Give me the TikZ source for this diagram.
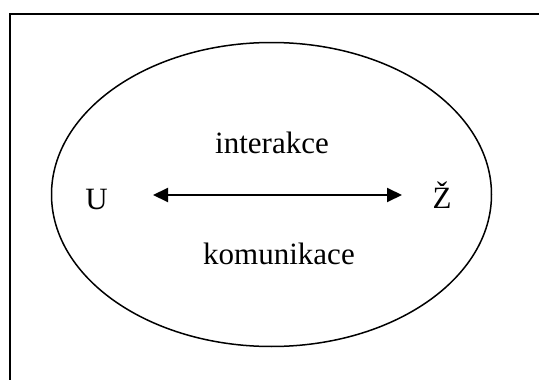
\documentclass[tikz,border=0pt]{standalone}
\usepackage{fontspec}
\setmainfont{Liberation Serif}
\usetikzlibrary{arrows.meta}
\tikzset{
  lbl/.style={anchor=base,inner sep=0pt,font=\fontsize{31}{36}\selectfont},
  frameline/.style={line width=2pt,black},
  ell/.style={line width=1.5pt,black},
  biarrow/.style={line width=2pt,{Triangle[length=15pt,width=14pt]}-{Triangle[length=15pt,width=14pt]}}
}
\begin{document}
\begin{tikzpicture}[x=1pt,y=-1pt]
\useasboundingbox (0,0) rectangle (539,380);
\fill[white] (0,0) rectangle (539,380);
\coordinate (fb) at (9.5,380);
\coordinate (fc) at (9.5,14);
\coordinate (fr) at (539,14);
\draw[frameline] (fb) -- (fc) -- (fr);
\draw[ell] (271.5,194.5) ellipse [x radius=220, y radius=152];
\node[lbl] (int) at (272,153) {interakce};
\node[lbl] (kom) at (279,264) {komunikace};
\node[lbl] (U) at (96.5,209) {U};
\node[lbl] (Z) at (442,208) {Ž};
\coordinate (al) at (153,195);
\coordinate (ar) at (402,195);
\draw[biarrow] (al) -- (ar);
\end{tikzpicture}
\end{document}
